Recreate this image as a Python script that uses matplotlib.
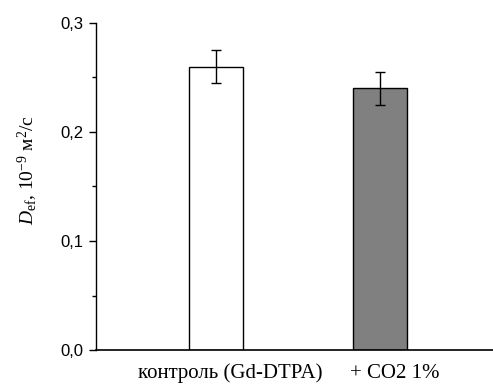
import matplotlib
matplotlib.use('Agg')
import matplotlib.pyplot as plt
import matplotlib.transforms as mtransforms
from matplotlib.ticker import MultipleLocator, FuncFormatter
import numpy as np

plt.rcParams['mathtext.fontset'] = 'custom'
plt.rcParams['mathtext.rm'] = 'Liberation Serif'
plt.rcParams['mathtext.it'] = 'Liberation Serif:italic'
plt.rcParams['mathtext.bf'] = 'Liberation Serif:bold'

# data
categories = ['контроль (Gd-DTPA)', '+ CO2 1%']
values = [0.26, 0.24]
errors = [0.015, 0.015]
colors = ['white', '#808080']

fig = plt.figure(figsize=(4.93, 3.85), dpi=100)
ax = fig.add_axes([0.1947, 0.0909, 0.8053, 0.8494])

x = np.arange(1, len(categories) + 1)
ax.bar(x, values, width=0.33, color=colors, edgecolor='black', linewidth=1.0, zorder=2)
ax.errorbar(x, values, yerr=errors, fmt='none', ecolor='black', elinewidth=1.0,
            capsize=3.5, capthick=1.0, zorder=3)

ax.set_xlim(0.27, 2.69)
ax.set_ylim(0, 0.3)
ax.yaxis.set_major_locator(MultipleLocator(0.1))
ax.yaxis.set_minor_locator(MultipleLocator(0.05))
ax.yaxis.set_major_formatter(FuncFormatter(lambda v, p: f'{v:.1f}'.replace('.', ',')))

ax.spines['top'].set_visible(False)
ax.spines['right'].set_visible(False)
ax.spines['left'].set_linewidth(1.0)
ax.spines['bottom'].set_linewidth(1.2)

ax.tick_params(axis='y', which='major', direction='out', length=5, width=1.0,
               labelsize=12, pad=4)
ax.tick_params(axis='y', which='minor', direction='out', length=3, width=1.0)
for lab in ax.get_yticklabels():
    lab.set_family('Liberation Sans')

ax.set_xticks(x)
ax.set_xticklabels(categories, family='Liberation Serif', fontsize=15)
ax.tick_params(axis='x', length=0, pad=20)
offset = mtransforms.ScaledTranslation(15 / 100, 0, fig.dpi_scale_trans)
for lab in ax.get_xticklabels():
    lab.set_va('baseline')
    lab.set_transform(lab.get_transform() + offset)

ax.set_ylabel(r'$D_{\mathrm{ef}}$, 10$^{-9}$ м$^{2}$/с', family='Liberation Serif',
              fontsize=14)
ax.yaxis.set_label_coords(-0.142, 0.55)

plt.savefig('out.png', dpi=100)
